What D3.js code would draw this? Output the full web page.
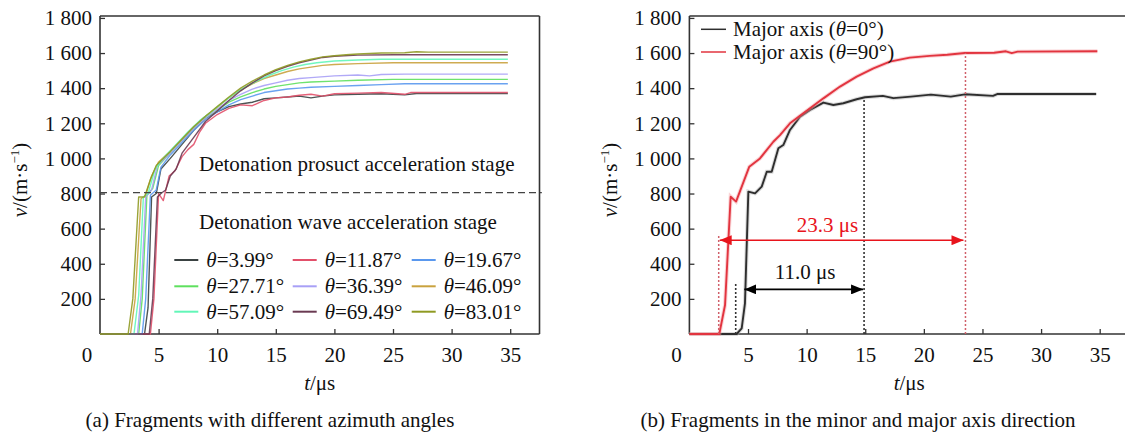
<!DOCTYPE html>
<html>
<head>
<meta charset="utf-8">
<script src="https://cdn.jsdelivr.net/npm/d3@7"></script>
<style>
  html, body { margin: 0; padding: 0; background: #fff; }
  svg { display: block; }
</style>
</head>
<body>
<svg id="chart" width="1125" height="433"></svg>
<script>
// ---------- data ----------
const tTicks = [5, 10, 15, 20, 25, 30, 35];
const vTicks = [200, 400, 600, 800, 1000, 1200, 1400, 1600, 1800];

const seriesNames = ["3.99", "11.87", "19.67", "27.71", "36.39", "46.09", "57.09", "69.49", "83.01"];
const seriesColors = ["#3a4242", "#e2506a", "#5a98ee", "#5ee05e", "#a8a0f6", "#c9a23e", "#62f6b8", "#6a3a52", "#8f9a22"];

const s399 = [[0,0],[3.8,0],[4.1,150],[4.4,780],[4.8,800],[5.2,940],[6,1000],[7,1080],[8,1160],[9,1230],[10,1265],[11,1295],[12,1310],[13,1320],[14,1340],[15,1345],[16,1350],[17,1355],[18,1345],[19,1355],[20,1362],[22,1365],[24,1368],[26,1362],[27,1370],[30,1370],[34.8,1370]];
const s1187 = [[0,0],[4.3,0],[4.6,200],[5.0,800],[5.4,760],[5.9,900],[6.4,930],[7,1010],[7.5,1050],[8,1080],[8.5,1150],[9,1200],[10,1250],[11,1285],[12,1305],[13,1300],[14,1330],[15,1345],[16,1350],[17,1360],[18,1365],[19,1355],[20,1368],[22,1372],[24,1375],[26,1365],[26.5,1375],[30,1375],[34.8,1375]];
const s1967 = [[0,0],[3.6,0],[3.9,200],[4.3,790],[4.8,820],[5.2,950],[6,1020],[7,1090],[8,1160],[9,1220],[10,1265],[11,1305],[12,1335],[13,1355],[14,1375],[15,1385],[16,1395],[17,1400],[18,1405],[20,1410],[22,1415],[24,1420],[26,1425],[34.8,1425]];
const s2771 = [[0,0],[3.3,0],[3.6,200],[4.0,790],[4.5,830],[5.0,960],[6,1030],[7,1100],[8,1170],[9,1230],[10,1275],[11,1320],[12,1350],[13,1375],[14,1395],[15,1410],[16,1420],[17,1430],[18,1435],[20,1440],[22,1445],[25,1450],[34.8,1450]];
const s3639 = [[0,0],[3.2,0],[3.5,220],[3.9,780],[4.4,820],[4.9,960],[6,1030],[7,1100],[8,1170],[9,1230],[10,1280],[11,1330],[12,1365],[13,1395],[14,1415],[15,1430],[16,1445],[17,1455],[18,1460],[20,1470],[22,1475],[23,1470],[24,1478],[26,1480],[34.8,1480]];
const s4609 = [[0,0],[2.6,0],[3.0,200],[3.5,770],[3.9,790],[4.4,900],[5,980],[6,1040],[7,1110],[8,1180],[9,1240],[10,1290],[11,1345],[12,1390],[13,1425],[14,1455],[15,1475],[16,1495],[17,1510],[18,1520],[19,1530],[20,1535],[22,1540],[25,1545],[34.8,1545]];
const s5709 = [[0,0],[2.9,0],[3.3,220],[3.7,780],[4.1,800],[4.7,940],[5.5,1010],[6.5,1080],[7.5,1150],[8.5,1215],[9.5,1265],[10.5,1320],[11.5,1370],[12.5,1410],[13.5,1445],[14.5,1475],[15.5,1500],[16.5,1520],[17.5,1535],[18.5,1545],[20,1555],[22,1560],[24,1565],[34.8,1565]];
const s6949 = [[0,0],[4.2,0],[4.5,200],[4.9,780],[5.2,800],[5.6,820],[6,900],[6.5,940],[7,1030],[8,1120],[9,1210],[10,1270],[11,1330],[12,1385],[13,1430],[14,1470],[15,1500],[16,1525],[17,1545],[18,1560],[19,1575],[20,1582],[22,1588],[25,1590],[34.8,1590]];
const s8301 = [[0,0],[2.4,0],[2.8,200],[3.3,780],[3.8,780],[4.3,880],[4.8,960],[6,1040],[7,1110],[8,1180],[9,1240],[10,1295],[11,1350],[12,1400],[13,1440],[14,1475],[15,1505],[16,1530],[17,1550],[18,1565],[19,1578],[20,1585],[21,1590],[22,1595],[24,1600],[26,1602],[27,1607],[28,1605],[34.8,1605]];
const seriesData = [s399, s1187, s1967, s2771, s3639, s4609, s5709, s6949, s8301];

const stageLine = 805;

// right panel
const axisNames = ["Major axis (", "Major axis ("];
const axisAngles = ["0", "90"];
const axisColors = ["#2e2e2e", "#e2343f"];
const major0 = [[0,0],[4.03,0],[4.46,32],[4.74,175],[5.03,811],[5.6,801],[6.17,839],[6.6,924],[7.02,924],[7.59,1058],[8.01,1076],[8.58,1162],[9.44,1238],[10.29,1276],[11.43,1318],[12.28,1304],[13.13,1314],[14.27,1337],[14.98,1348],[16.5,1356],[17.4,1343],[18.9,1352],[20.6,1363],[22.3,1352],[23.5,1365],[25.9,1356],[26.3,1367],[34.7,1367]];
const major90 = [[0,0],[2.55,0],[3.04,165],[3.52,782],[3.98,754],[5.11,953],[6.02,1000],[7.16,1095],[7.73,1133],[8.58,1200],[9.72,1257],[11.43,1342],[12.85,1409],[14.27,1466],[15.7,1513],[17.1,1551],[18.8,1574],[20.5,1584],[22,1590],[23.5,1600],[26,1602],[27,1610],[27.5,1600],[28,1608],[34.8,1610]];

// annotations (time, velocity)
const redSpan = [2.5, 23.55];
const redArrowV = 534;
const redGuideTop = [558, 1600];
const blackSpan = [3.95, 14.9];
const blackArrowStart = 4.69;
const blackArrowV = 254;
const blackGuideTop = [292, 1340];
const spanLabels = ["23.3 μs", "11.0 μs"];

// ---------- drawing ----------
const svg = d3.select("#chart");
const FS = 21;
const FONT = "Liberation Serif";

const y = d3.scaleLinear().domain([0, 1811]).range([334, 16]);
const xL = d3.scaleLinear().domain([0, 37.5]).range([100, 539.5]);
const xR = d3.scaleLinear().domain([0, 37.5]).range([689.4, 1129]);

const fmt = d => d >= 1000 ? String(d).replace(/(\d)(\d{3})$/, "$1 $2") : String(d);

const defs = svg.append("defs");
function arrowMarker(id, color) {
  defs.append("marker").attr("id", id)
    .attr("viewBox", "0 0 12 10").attr("refX", 12).attr("refY", 5)
    .attr("markerWidth", 12).attr("markerHeight", 10).attr("markerUnits", "userSpaceOnUse")
    .attr("orient", "auto-start-reverse")
    .append("path").attr("d", "M0,0 L12,5 L0,10 Z").attr("fill", color);
}
arrowMarker("arrRed", "#e8141c");
arrowMarker("arrBlack", "#000");

function txt(sel) { return sel.style("font-family", FONT).style("font-size", FS + "px").attr("fill", "#111"); }

function drawAxes(x, opts) {
  const g = svg.append("g");
  const [x0, x1] = x.range();
  const ax = d3.axisBottom(x).tickValues(tTicks).tickSize(-5).tickPadding(13).tickFormat(d3.format("d"));
  const gx = g.append("g").attr("transform", `translate(0,${y(0)})`).call(ax);
  gx.select(".domain").remove();
  gx.selectAll(".tick line").attr("stroke", "#333").attr("stroke-width", 1.3);
  txt(gx.selectAll(".tick text")).attr("dy", "0.72em");
  const ay = d3.axisLeft(y).tickValues(vTicks).tickSize(-5).tickPadding(8).tickFormat(fmt);
  const gy = g.append("g").attr("transform", `translate(${x0},0)`).call(ay);
  gy.select(".domain").remove();
  gy.selectAll(".tick line").attr("stroke", "#333").attr("stroke-width", 1.3);
  txt(gy.selectAll(".tick text"));
  const top = y.range()[1];
  const bot = y.range()[0];
  g.append("line").attr("x1", x0).attr("x2", x0).attr("y1", top).attr("y2", bot).attr("stroke", "#333").attr("stroke-width", 1.6);
  g.append("line").attr("x1", x0).attr("x2", x1).attr("y1", bot).attr("y2", bot).attr("stroke", "#333").attr("stroke-width", 1.6);
  g.append("line").attr("x1", x0).attr("x2", x1).attr("y1", top).attr("y2", top).attr("stroke", "#333").attr("stroke-width", 1.6);
  if (opts.rightBorder) g.append("line").attr("x1", x1).attr("x2", x1).attr("y1", top).attr("y2", bot).attr("stroke", "#333").attr("stroke-width", 1.6);
  txt(g.append("text")).attr("x", x0 - 13).attr("y", 361.5).attr("text-anchor", "middle").text("0");
  const xl = txt(g.append("text")).attr("x", (x0 + Math.min(x1, 1129)) / 2).attr("y", 390).attr("text-anchor", "middle");
  xl.append("tspan").style("font-style", "italic").text("t");
  xl.append("tspan").text("/μs");
  const yl = txt(g.append("text")).attr("transform", `translate(${opts.ylx},180) rotate(-90)`).attr("text-anchor", "middle");
  yl.append("tspan").style("font-style", "italic").text("v");
  yl.append("tspan").text("/(m·s");
  yl.append("tspan").style("font-size", "13px").attr("dy", -8).text("−1");
  yl.append("tspan").attr("dy", 8).text(")");
  txt(g.append("text")).attr("x", opts.capx).attr("y", 427).attr("text-anchor", "middle").text(opts.caption);
  return g;
}

// ----- left panel -----
drawAxes(xL, { rightBorder: true, ylx: 27, capx: 270, caption: "(a) Fragments with different azimuth angles" });

const lineL = d3.line().x(d => xL(d[0])).y(d => y(d[1]));
const gL = svg.append("g");
seriesData.forEach((s, i) => {
  gL.append("path").attr("d", lineL(s)).attr("fill", "none")
    .attr("stroke", seriesColors[i]).attr("stroke-width", 1.4).attr("stroke-opacity", 0.9).attr("stroke-linejoin", "round");
});

svg.append("line").attr("x1", xL(0)).attr("x2", xL(37.7)).attr("y1", y(stageLine)).attr("y2", y(stageLine))
  .attr("stroke", "#444").attr("stroke-width", 1.4).attr("stroke-dasharray", "7,4");

txt(svg.append("text")).attr("x", 199).attr("y", 170.5).text("Detonation prosuct acceleration stage");
txt(svg.append("text")).attr("x", 199).attr("y", 228.5).text("Detonation wave acceleration stage");

const legX = [174.3, 292.7, 411.7];
const legY = [260, 286.3, 311.7];
seriesNames.forEach((n, i) => {
  const c = i % 3, r = Math.floor(i / 3);
  const lx = legX[c], ly = legY[r];
  svg.append("line").attr("x1", lx).attr("x2", lx + 24).attr("y1", ly).attr("y2", ly)
    .attr("stroke", seriesColors[i]).attr("stroke-width", 2);
  const t = txt(svg.append("text")).attr("x", lx + 32).attr("y", ly + 7);
  t.append("tspan").style("font-style", "italic").text("θ");
  t.append("tspan").text("=" + n + "°");
});

// ----- right panel -----
drawAxes(xR, { rightBorder: false, ylx: 617, capx: 858, caption: "(b) Fragments in the minor and major axis direction" });

const lineR = d3.line().x(d => xR(d[0])).y(d => y(d[1]));
const gR = svg.append("g");
[major0, major90].forEach((s, i) => {
  gR.append("path").attr("d", lineR(s)).attr("fill", "none")
    .attr("stroke", i ? "#f3a0a4" : "#b0b0b0").attr("stroke-width", 4).attr("stroke-opacity", 0.45);
  gR.append("path").attr("d", lineR(s)).attr("fill", "none")
    .attr("stroke", axisColors[i]).attr("stroke-width", 1.9).attr("stroke-linejoin", "round");
});

const gA = svg.append("g");
gA.append("line").attr("x1", xR(redSpan[0])).attr("x2", xR(redSpan[0])).attr("y1", y(0)).attr("y2", y(redGuideTop[0]))
  .attr("stroke", "#d0606a").attr("stroke-width", 1.5).attr("stroke-dasharray", "2,2");
gA.append("line").attr("x1", xR(redSpan[1])).attr("x2", xR(redSpan[1])).attr("y1", y(0)).attr("y2", y(redGuideTop[1]))
  .attr("stroke", "#d0606a").attr("stroke-width", 1.5).attr("stroke-dasharray", "2,2");
gA.append("line").attr("x1", xR(blackSpan[0])).attr("x2", xR(blackSpan[0])).attr("y1", y(0)).attr("y2", y(blackGuideTop[0]))
  .attr("stroke", "#333").attr("stroke-width", 1.6).attr("stroke-dasharray", "2,2");
gA.append("line").attr("x1", xR(blackSpan[1])).attr("x2", xR(blackSpan[1])).attr("y1", y(0)).attr("y2", y(blackGuideTop[1]))
  .attr("stroke", "#333").attr("stroke-width", 1.6).attr("stroke-dasharray", "2,2");

gA.append("line").attr("x1", xR(redSpan[0]) + 1).attr("x2", xR(redSpan[1]) - 2).attr("y1", y(redArrowV)).attr("y2", y(redArrowV))
  .attr("stroke", "#e8141c").attr("stroke-width", 1.6)
  .attr("marker-start", "url(#arrRed)").attr("marker-end", "url(#arrRed)");
gA.append("line").attr("x1", xR(blackArrowStart)).attr("x2", xR(blackSpan[1]) - 1).attr("y1", y(blackArrowV)).attr("y2", y(blackArrowV))
  .attr("stroke", "#000").attr("stroke-width", 1.6)
  .attr("marker-start", "url(#arrBlack)").attr("marker-end", "url(#arrBlack)");

txt(svg.append("text")).attr("x", 827.5).attr("y", 232.3).attr("text-anchor", "middle").attr("fill", "#e8141c").text(spanLabels[0]);
txt(svg.append("text")).attr("x", 805).attr("y", 279).attr("text-anchor", "middle").text(spanLabels[1]);

const legRY = [29.3, 52];
axisNames.forEach((n, i) => {
  svg.append("line").attr("x1", 701).attr("x2", 726).attr("y1", legRY[i]).attr("y2", legRY[i])
    .attr("stroke", axisColors[i]).attr("stroke-width", 1.5);
  const t = txt(svg.append("text")).attr("x", 733).attr("y", legRY[i] + 7);
  t.append("tspan").text(n);
  t.append("tspan").style("font-style", "italic").text("θ");
  t.append("tspan").text("=" + axisAngles[i] + "°)");
});
</script>
</body>
</html>
